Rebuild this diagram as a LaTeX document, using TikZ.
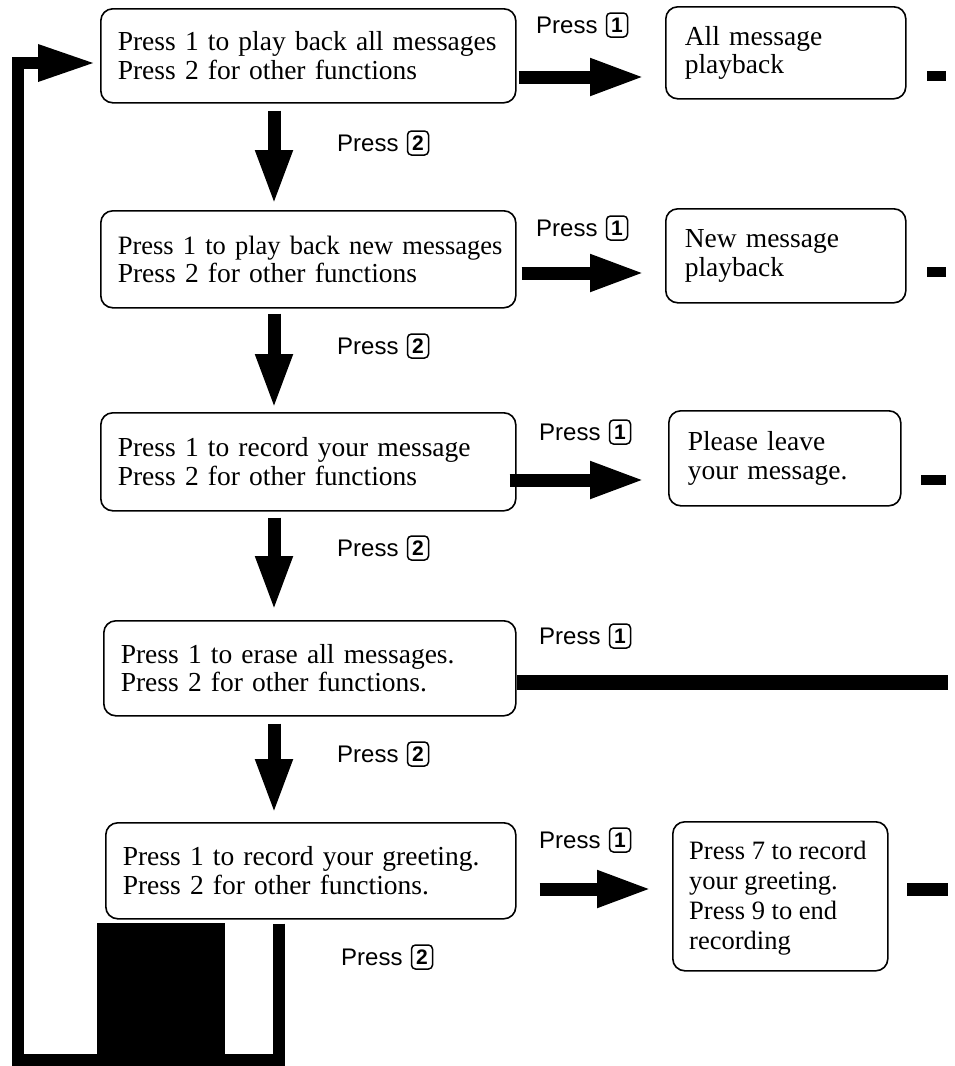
\documentclass[tikz,border=0pt]{standalone}
\usepackage{fontspec}
\setmainfont{Liberation Serif}
\setsansfont{Liberation Sans}
\usetikzlibrary{arrows.meta,positioning}
\begin{document}
\begin{tikzpicture}[x=1pt,y=-1pt,
  box/.style={draw, line width=1.6pt, rounded corners=12pt, inner xsep=17pt, inner ysep=0pt,
    align=left, anchor=north west, font=\fontsize{27.5}{28.5}\selectfont},
  txt/.style={inner sep=0pt, align=left, anchor=north west, font=\fontsize{26.5}{30}\selectfont},
  press/.style={anchor=west, inner sep=0pt, font=\sffamily\fontsize{24}{24}\selectfont},
  key/.style={draw, line width=1.5pt, rounded corners=4pt, inner sep=0pt, minimum width=21pt,
    minimum height=24pt, font=\sffamily\bfseries\fontsize{21}{21}\selectfont},
  fat/.style={line width=13pt, -{Triangle[length=55pt,width=34pt]}},
  stub/.style={fill=black},
]
\useasboundingbox (0,0) rectangle (954,1066);

% menu boxes
\node[box, text width=381pt, minimum height=94pt] (b1) at (100,8)
  {\mbox{Press 1 to play back all messages}\\\mbox{Press 2 for other functions}};
\node[box, text width=381pt, minimum height=97pt] (b2) at (100,210)
  {\mbox{\fontsize{26.5}{28.5}\selectfont Press 1 to play back new messages}\\\mbox{Press 2 for other functions}};
\node[box, text width=381pt, minimum height=98pt] (b3) at (100,412)
  {\mbox{Press 1 to record your message}\\\mbox{Press 2 for other functions}};
\node[box, text width=378pt, minimum height=95pt] (b4) at (103,620)
  {\mbox{Press 1 to erase all messages.}\\\mbox{Press 2 for other functions.}};
\node[box, text width=376pt, minimum height=96pt] (b5) at (105,822)
  {\mbox{Press 1 to record your greeting.}\\\mbox{Press 2 for other functions.}};

% result boxes
\node[box, inner xsep=19pt, text width=202pt, minimum height=92pt] (bA) at (665,6)
  {All message\\playback};
\node[box, inner xsep=19pt, text width=202pt, minimum height=94pt] (bB) at (665,208)
  {New message\\playback};
\node[box, inner xsep=19pt, text width=194pt, minimum height=95pt] (bC) at (668,410)
  {Please leave\\your message.};
\node[box, minimum width=215pt, minimum height=149pt] (bD) at (672,821) {};
\node[txt] (tD) at (689,841)
  {Press 7 to record\\your greeting.\\Press 9 to end\\recording};

% Press 1 labels
\node[press] (p1a) at (536,25) {Press};
\node[key, right=8pt of p1a] (k1a) {1};
\node[press] (p1b) at (536,228) {Press};
\node[key, right=8pt of p1b] (k1b) {1};
\node[press] (p1c) at (539,432) {Press};
\node[key, right=8pt of p1c] (k1c) {1};
\node[press] (p1d) at (539,636) {Press};
\node[key, right=8pt of p1d] (k1d) {1};
\node[press] (p1e) at (539,840) {Press};
\node[key, right=8pt of p1e] (k1e) {1};

% Press 2 labels
\node[press] (p2a) at (337,143) {Press};
\node[key, right=8pt of p2a] (k2a) {2};
\node[press] (p2b) at (337,346) {Press};
\node[key, right=8pt of p2b] (k2b) {2};
\node[press] (p2c) at (337,548) {Press};
\node[key, right=8pt of p2c] (k2c) {2};
\node[press] (p2d) at (337,754) {Press};
\node[key, right=8pt of p2d] (k2d) {2};
\node[press] (p2e) at (341,957) {Press};
\node[key, right=8pt of p2e] (k2e) {2};

% down arrows
\coordinate (ax) at (274,0);
\draw[fat, shorten <=7pt, shorten >=5pt] (b1.south -| ax) -- (b2.north -| ax);
\draw[fat, shorten <=5pt, shorten >=3pt] (b2.south -| ax) -- (b3.north -| ax);
\draw[fat, shorten <=6pt, shorten >=9pt] (b3.south -| ax) -- (b4.north -| ax);
\draw[fat, shorten <=7pt, shorten >=8pt] (b4.south -| ax) -- (b5.north -| ax);

% right arrows
\draw[fat, shorten <=2pt, shorten >=20pt] (b1.east |- 0,77) -- (bA.west |- 0,77);
\draw[fat, shorten <=5pt, shorten >=20pt] (b2.east |- 0,273) -- (bB.west |- 0,273);
\draw[fat, shorten <=-7pt, shorten >=23pt] (b3.east |- 0,480) -- (bC.west |- 0,480);
\draw[fat, shorten <=23pt, shorten >=20pt] (b5.east |- 0,889) -- (bD.west |- 0,889);

% truncated stubs
\fill[stub] (927,71) rectangle (946,81);
\fill[stub] (927,267) rectangle (946,277);
\fill[stub] (921,475) rectangle (946,485);
\fill[stub] (907,883) rectangle (948,896);
\fill[stub] (517,675) rectangle (948,690);

% loop back
\coordinate (lx) at (279,0);
\coordinate (lb) at (279,1060);
\coordinate (lc) at (18,1060);
\coordinate (lin) at (b1.west |- 0,63);
\draw[line width=12pt, line join=miter, shorten <=4pt, shorten >=4pt,
  -{Triangle[length=58pt,width=34pt]}]
  (b5.south -| lx) -- (lb) -- (lc) |- (lin);
\fill (97,923) rectangle (225,1055);
\end{tikzpicture}
\end{document}
